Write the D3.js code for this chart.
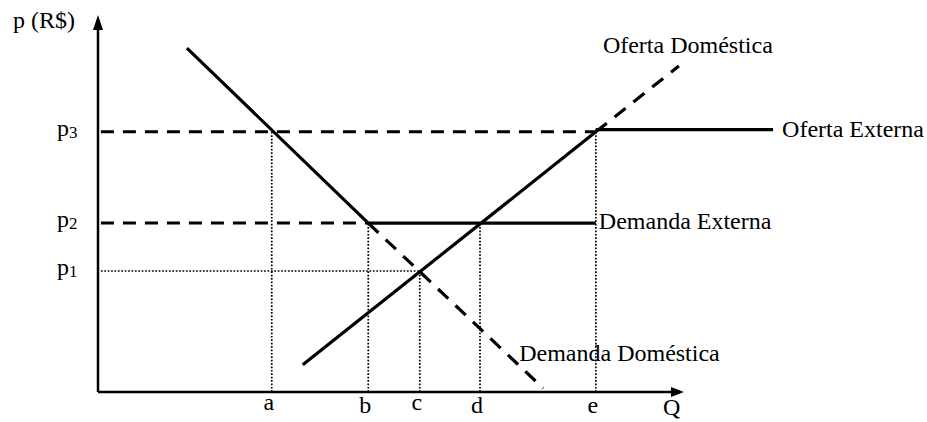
<!DOCTYPE html>
<html>
<head>
<meta charset="utf-8">
<script src="https://cdn.jsdelivr.net/npm/d3@7"></script>
<style>
    body { margin: 0; background: #fff; }
    text { font-family: "Liberation Serif", "Times New Roman", serif; fill: #000; }
</style>
</head>
<body>
<svg id="chart" width="927" height="422"></svg>
<script>
// quantities on the Q axis (a..e) and price levels (p1..p3)
const qTicks = ['a', 'b', 'c', 'd', 'e'];
const qValues = [29.7, 46.2, 55.0, 65.3, 85.1];
const pTicks = ['3', '2', '1'];
const pValues = [69.0, 44.8, 32.1];

// curves, split where the drawing changes from solid to dashed
const demandaDomesticaSolid = [[15.2, 91.2], [46.2, 44.8]];
const demandaDomesticaDashed = [[46.2, 44.8], [76.1, 1.0]];
const ofertaDomesticaSolid = [[35.0, 7.2], [85.1, 69.0]];
const ofertaDomesticaDashed = [[85.1, 69.0], [99.3, 86.5]];
const ofertaExterna = [[85.1, 69.6], [115.4, 69.6]];
const demandaExterna = [[46.2, 44.8], [85.1, 44.8]];

const FONT = 24;
const svg = d3.select('#chart');
const x = d3.scaleLinear().domain([0, 100]).range([98, 683]);
const y = d3.scaleLinear().domain([0, 100]).range([392, 15]);
const line = d3.line().x(d => x(d[0])).y(d => y(d[1]));

// guide lines (dotted verticals and the dotted p1 line)
const guideTop = [pValues[0], pValues[1], pValues[2], pValues[1], 69.6];
qValues.forEach((q, i) => {
    svg.append('path')
        .attr('d', line([[q, 0], [q, guideTop[i]]]))
        .attr('stroke', '#000').attr('stroke-width', 1.7)
        .attr('stroke-dasharray', '1.7,1.7').attr('fill', 'none');
});
svg.append('path')
    .attr('d', line([[0.5, pValues[2]], [qValues[2], pValues[2]]]))
    .attr('stroke', '#000').attr('stroke-width', 1.7)
    .attr('stroke-dasharray', '1.7,1.7').attr('fill', 'none');

// dashed price lines p3, p2
svg.append('path')
    .attr('d', line([[0.5, pValues[0]], [qValues[4], pValues[0]]]))
    .attr('stroke', '#000').attr('stroke-width', 3)
    .attr('stroke-dasharray', '13,9').attr('fill', 'none');
svg.append('path')
    .attr('d', line([[0.5, pValues[1]], [qValues[1], pValues[1]]]))
    .attr('stroke', '#000').attr('stroke-width', 3)
    .attr('stroke-dasharray', '13,9').attr('fill', 'none');

function drawCurve(pts, dashed) {
    svg.append('path')
        .attr('d', line(pts))
        .attr('stroke', '#000').attr('stroke-width', 3.2)
        .attr('stroke-dasharray', dashed ? '14,10' : null)
        .attr('fill', 'none');
}
drawCurve(demandaDomesticaSolid, false);
drawCurve(demandaDomesticaDashed, true);
drawCurve(ofertaDomesticaSolid, false);
drawCurve(ofertaDomesticaDashed, true);
drawCurve(ofertaExterna, false);
drawCurve(demandaExterna, false);

// axes with arrow heads
svg.append('path').attr('d', line([[0, 0], [0, 96]]))
    .attr('stroke', '#000').attr('stroke-width', 2.5);
svg.append('path').attr('d', line([[0, 0], [99, 0]]))
    .attr('stroke', '#000').attr('stroke-width', 2.5);
svg.append('path')
    .attr('d', `M${x(0)},${y(100)} L${x(0) - 5},${y(100) + 15} L${x(0) + 5},${y(100) + 15}Z`);
svg.append('path')
    .attr('d', `M${x(100) + 1},${y(0)} L${x(100) - 12},${y(0) - 5} L${x(100) - 12},${y(0) + 5}Z`);

// axis labels
svg.append('text').attr('x', 13).attr('y', 28).attr('font-size', FONT).text('p (R$)');
svg.append('text').attr('x', x(100) - 20).attr('y', 415).attr('font-size', FONT).text('Q');

qTicks.forEach((t, i) => {
    svg.append('text')
        .attr('x', x(qValues[i]) - 3).attr('y', i === 0 || i === 2 ? 410 : 413)
        .attr('text-anchor', 'middle').attr('font-size', FONT).text(t);
});
pTicks.forEach((t, i) => {
    const label = svg.append('text')
        .attr('x', 57).attr('y', y(pValues[i]) + 4).attr('font-size', FONT);
    label.append('tspan').text('p');
    label.append('tspan').attr('font-size', 17).attr('dy', 2).text(t);
});

// curve labels
const curveLabel = (tx, ty, s) => svg.append('text').attr('x', tx).attr('y', ty).attr('font-size', FONT).text(s);
curveLabel(x(ofertaDomesticaDashed[1][0]) - 76, 53, 'Oferta Doméstica');
curveLabel(x(ofertaExterna[1][0]) + 9, 137, 'Oferta Externa');
curveLabel(x(demandaExterna[1][0]) + 3, 229, 'Demanda Externa');
curveLabel(x(demandaDomesticaDashed[1][0]) - 24, 361, 'Demanda Doméstica');
</script>
</body>
</html>
